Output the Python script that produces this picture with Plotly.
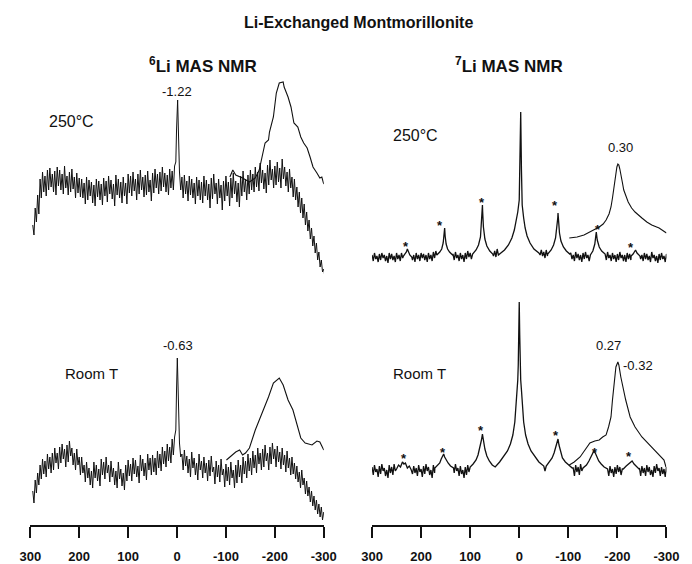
import plotly.graph_objects as go

# ---------------- data (intensities in arbitrary units) ----------------
# 6Li spectra: noise band given by upper / lower envelope on a 5 ppm grid from 295 ppm
LI6_GRID_START = 295
TL_UPPER = [  # 6Li, 250 C
    55, 72, 85, 101, 108, 104, 110, 112, 106, 109,
    113, 110, 106, 114, 104, 108, 111, 103, 107, 102,
    101, 97, 103, 100, 98, 95, 101, 99, 96, 102,
    99, 104, 100, 96, 105, 101, 98, 103, 97, 106,
    104, 108, 101, 106, 110, 103, 105, 109, 100, 107,
    111, 106, 108, 113, 107, 105, 111, 109, 114, 175,
    108, 103, 105, 99, 104, 101, 97, 103, 100, 98,
    104, 100, 96, 102, 106, 97, 101, 95, 99, 104,
    98, 102, 107, 99, 97, 104, 109, 101, 105, 110,
    106, 113, 108, 117, 110, 107, 115, 120, 111, 114,
    118, 112, 121, 113, 108, 111, 103, 101, 93, 88,
    82, 76, 68, 60, 52, 44, 37, 28, 20, 11,
]
TL_LOWER = [
    45, 58, 66, 82, 88, 84, 90, 93, 88, 85,
    94, 90, 86, 92, 85, 88, 91, 82, 87, 83,
    82, 76, 80, 84, 77, 74, 83, 80, 75, 84,
    78, 86, 81, 74, 85, 82, 77, 84, 76, 87,
    84, 89, 80, 86, 90, 83, 85, 88, 79, 87,
    92, 86, 89, 93, 88, 85, 92, 90, 96, 160,
    90, 82, 86, 79, 85, 82, 76, 84, 80, 77,
    84, 80, 72, 81, 86, 76, 82, 70, 79, 84,
    74, 82, 86, 78, 73, 84, 88, 80, 86, 90,
    88, 93, 89, 97, 91, 87, 95, 100, 92, 95,
    98, 92, 101, 94, 88, 92, 83, 80, 73, 67,
    62, 55, 49, 41, 34, 27, 20, 13, 8, 2,
]
TL_PEAK_PPM = [2.5, 1.0, -1.2, -2.5, -3.5]
TL_PEAK_VAL = [118, 150, 180, 155, 125]
TL_EXP_PPM = [-108, -114, -120, -134, -148, -154, -160, -168, -174, -180, -187, -189,
              -197, -203, -209, -217, -219, -227, -233, -239, -247, -253, -259, -266,
              -272, -278, -286, -292, -296, -300]
TL_EXP_VAL = [103, 110, 105, 102, 98, 100, 102, 110, 123, 137, 140, 148,
              163, 187, 197, 198, 193, 183, 173, 157, 153, 143, 137, 132,
              123, 113, 107, 102, 103, 96]

BL_UPPER = [  # 6Li, room T
    34, 45, 52, 60, 66, 64, 71, 68, 72, 77,
    72, 78, 81, 76, 80, 84, 77, 72, 76, 68,
    68, 60, 63, 57, 54, 63, 60, 56, 66, 63,
    68, 60, 64, 57, 54, 63, 56, 52, 60, 65,
    61, 67, 65, 59, 70, 66, 62, 71, 67, 70,
    67, 74, 71, 78, 74, 81, 78, 86, 88, 160,
    82, 71, 75, 69, 66, 73, 67, 62, 71, 64,
    68, 62, 65, 69, 58, 64, 60, 66, 56, 61,
    58, 63, 55, 60, 65, 60, 68, 64, 71, 67,
    74, 70, 77, 72, 76, 80, 72, 78, 82, 76,
    79, 73, 77, 70, 74, 67, 68, 62, 59, 53,
    55, 47, 44, 38, 34, 29, 25, 21, 18, 13,
]
BL_LOWER = [
    22, 32, 40, 46, 51, 48, 56, 52, 55, 62,
    56, 62, 66, 58, 63, 69, 60, 55, 60, 50,
    52, 43, 47, 40, 37, 47, 44, 39, 50, 46,
    52, 43, 48, 40, 37, 46, 39, 35, 44, 49,
    44, 51, 48, 42, 54, 49, 45, 55, 50, 53,
    50, 57, 54, 61, 58, 64, 62, 70, 74, 150,
    68, 55, 59, 52, 48, 57, 50, 45, 55, 47,
    52, 44, 49, 53, 41, 48, 43, 50, 38, 44,
    40, 47, 37, 42, 48, 42, 51, 47, 54, 50,
    57, 52, 61, 55, 58, 64, 55, 61, 66, 58,
    63, 56, 60, 53, 57, 50, 51, 46, 43, 37,
    40, 31, 29, 23, 19, 15, 11, 8, 5, 2,
]
BL_PEAK_PPM = [2.5, 1.0, -0.6, -2.0, -3.5]
BL_PEAK_VAL = [95, 135, 167, 140, 100]
BL_EXP_PPM = [-101, -114, -120, -128, -134, -140, -148, -160, -174, -187, -197, -203,
              -209, -217, -227, -237, -247, -253, -262, -276, -286, -292, -300]
BL_EXP_VAL = [65, 70, 73, 75, 70, 72, 77, 95, 112, 128, 142, 145,
              147, 140, 125, 115, 98, 87, 82, 80, 84, 83, 75]

# 7Li spectra: baseline noise envelope on a 5 ppm grid from 300 ppm, plus peaks
LI7_GRID_START = 300
TR_UPPER = [  # 7Li, 250 C
    25, 27, 24, 26, 27, 25, 24, 27, 26, 24,
    27, 25, 27, 26, 27, 28, 26, 25, 27, 25,
    27, 26, 25, 27, 25, 28, 29, 30, 32, 33,
    33, 31, 29, 26, 28, 25, 27, 25, 27, 29,
    27, 30, 32, 35, 43, 62, 48, 37, 32, 30,
    29, 31, 30, 33, 37, 41, 47, 55, 65, 78,
    82, 78, 63, 53, 45, 40, 36, 33, 31, 30,
    28, 30, 32, 35, 43, 62, 48, 38, 34, 32,
    29, 27, 25, 28, 26, 25, 27, 28, 25, 28,
    32, 43, 38, 32, 29, 26, 28, 25, 27, 25,
    26, 28, 25, 25, 27, 26, 31, 30, 28, 27,
    25, 27, 26, 24, 28, 25, 24, 26, 27, 24,
    26,
]
TR_LOWER = [
    19, 21, 18, 20, 22, 19, 17, 21, 20, 18,
    21, 19, 22, 20, 21, 22, 20, 18, 21, 19,
    22, 20, 18, 21, 19, 22, 23, 24, 26, 27,
    27, 25, 23, 20, 22, 19, 21, 18, 21, 23,
    21, 24, 26, 29, 37, 57, 42, 31, 26, 24,
    23, 25, 24, 27, 31, 35, 41, 49, 59, 72,
    77, 72, 57, 47, 39, 34, 30, 27, 25, 24,
    22, 24, 26, 29, 37, 57, 42, 32, 28, 26,
    23, 21, 19, 22, 20, 18, 21, 22, 19, 22,
    26, 37, 32, 26, 23, 20, 22, 19, 21, 18,
    20, 22, 19, 18, 21, 20, 25, 24, 22, 21,
    19, 21, 20, 18, 22, 19, 17, 20, 21, 18,
    20,
]
TR_PEAKS_PPM = [
    [236, 232, 230, 228, 226, 223, 219],
    [168, 162, 158, 155, 153, 152, 151, 149, 146, 142, 136],
    [95, 88, 83, 79, 77, 75.5, 75, 74.5, 73, 70, 66, 60, 54],
    [40, 30, 22, 15, 10, 6, 3, 0, -1.5, -3, -4.5, -6, -9, -12, -16, -22, -30, -40],
    [-58, -65, -70, -74, -77, -78.5, -79, -80, -82, -85, -90, -96, -103],
    [-145, -150, -154, -156, -157, -159, -163, -168, -175],
    [-228, -232, -235, -237, -240, -246],
]
TR_PEAKS_VAL = [
    [24, 26, 28, 31, 28, 25, 23],
    [25, 28, 31, 37, 44, 52, 44, 36, 31, 28, 25],
    [26, 30, 35, 43, 55, 68, 75, 68, 53, 41, 34, 29, 26],
    [26, 30, 35, 42, 50, 60, 68, 80, 110, 168, 110, 75, 62, 52, 44, 37, 31, 27],
    [26, 30, 35, 42, 52, 62, 67, 58, 47, 39, 33, 29, 26],
    [25, 29, 36, 44, 48, 40, 33, 29, 26],
    [24, 26, 29, 30, 27, 24],
]
TR_EXP_PPM = [-102, -118, -132, -144, -155, -163, -171, -177, -183, -187,
              -190, -193, -196, -199, -201, -203, -205, -207, -210, -213,
              -218, -222, -229, -236, -250, -260, -270, -285, -300]
TR_EXP_VAL = [42, 43, 45, 48, 51, 53, 56, 60, 66, 73,
              82, 93, 104, 113, 116, 115, 111, 107, 98, 90,
              83, 78, 72, 68, 62, 58, 55, 52, 47]
TR_STAR_PPM = [230, 161, 75, -73, -161, -228]
TR_STAR_VAL = [38, 59, 82, 79, 55, 37]

BR_UPPER = [  # 7Li, room T
    58, 60, 56, 59, 61, 57, 55, 60, 58, 61,
    59, 63, 61, 65, 63, 61, 58, 59, 57, 60,
    56, 59, 61, 58, 55, 60, 57, 60, 61, 63,
    73, 67, 63, 59, 61, 57, 59, 55, 58, 60,
    61, 64, 69, 75, 88, 91, 73, 65, 61, 60,
    62, 64, 66, 69, 73, 77, 83, 91, 103, 123,
    226, 123, 103, 91, 83, 77, 73, 69, 66, 64,
    61, 63, 66, 70, 75, 83, 75, 67, 64, 61,
    59, 58, 57, 60, 58, 61, 57, 59, 63, 66,
    73, 69, 64, 61, 58, 60, 57, 59, 56, 58,
    60, 58, 56, 61, 59, 64, 66, 63, 60, 57,
    59, 57, 60, 58, 55, 59, 61, 57, 58, 56,
    58,
]
BR_LOWER = [
    50, 53, 48, 51, 54, 49, 47, 52, 50, 54,
    52, 56, 54, 58, 56, 54, 51, 52, 49, 53,
    48, 51, 54, 50, 47, 52, 49, 53, 54, 56,
    66, 60, 56, 52, 54, 49, 51, 47, 50, 53,
    54, 57, 62, 68, 81, 84, 66, 58, 54, 53,
    55, 57, 59, 62, 66, 70, 76, 84, 96, 116,
    219, 116, 96, 84, 76, 70, 66, 62, 59, 57,
    54, 56, 59, 63, 68, 76, 68, 60, 57, 54,
    52, 51, 49, 53, 50, 54, 49, 52, 56, 59,
    66, 62, 57, 54, 51, 53, 49, 52, 48, 51,
    53, 50, 49, 54, 52, 57, 59, 56, 53, 49,
    52, 49, 53, 50, 48, 52, 54, 49, 51, 48,
    51,
]
BR_PEAKS_PPM = [
    [250, 246, 242, 238, 235, 232, 228, 224, 220],
    [172, 166, 162, 159, 156, 154, 152, 149, 145, 140, 134],
    [100, 94, 88, 84, 80, 77, 75, 73, 70, 66, 61, 55, 49],
    [50, 40, 32, 24, 18, 13, 9, 6, 4.5, 3, 2, 1, 0, -1, -2, -3, -4.5, -6, -9, -13,
     -18, -24, -32, -40, -50],
    [-55, -62, -67, -71, -75, -77, -79, -81, -84, -88, -94, -100, -108],
    [-130, -137, -142, -146, -149, -152, -155, -158, -162, -167, -173, -180],
    [-212, -218, -222, -226, -230, -234, -238, -244],
]
BR_PEAKS_VAL = [
    [56, 60, 58, 63, 61, 62, 57, 59, 55],
    [57, 60, 62, 66, 69, 71, 68, 65, 62, 59, 57],
    [58, 61, 65, 70, 77, 85, 91, 84, 76, 69, 64, 60, 58],
    [59, 63, 68, 74, 81, 90, 103, 120, 135, 145, 160, 190, 223, 190, 160, 145, 135,
     120, 103, 90, 81, 74, 68, 63, 59],
    [59, 63, 67, 72, 78, 83, 86, 80, 73, 67, 63, 60, 57],
    [57, 60, 64, 68, 71, 74, 72, 68, 64, 61, 58, 56],
    [56, 59, 61, 63, 64, 61, 59, 56],
]
BR_EXP_PPM = [-102, -112, -124, -135, -144, -154, -163, -170, -177, -182,
              -187, -190, -193, -197, -201, -203, -207, -211, -217, -226,
              -236, -250, -260, -270, -285, -295, -299]
BR_EXP_VAL = [60, 63, 68, 76, 82, 84, 85, 88, 90, 98,
              108, 125, 142, 158, 163, 160, 148, 138, 125, 108,
              98, 88, 83, 78, 70, 65, 58]
BR_STAR_PPM = [234, 156, 77, -75, -154, -224]
BR_STAR_VAL = [71, 77, 99, 94, 77, 73]

TICK_VALS = [300, 200, 100, 0, -100, -200, -300]
TICK_TEXT = ["300", "200", "100", "0", "-100", "-200", "-300"]


def build(start, upper, lower, peaks_ppm, peaks_val, step=5):
    """Noise band drawn as a trace alternating between the upper and lower
    envelope values, with the resolved peaks merged in."""
    pts = []
    for i, (u, lo_v) in enumerate(zip(upper, lower)):
        x = start - step * i
        pts.append((x, u))
        pts.append((x - step / 2, lo_v))
    windows = [(min(p), max(p)) for p in peaks_ppm]
    pts = [(x, v) for x, v in pts if not any(a <= x <= b for a, b in windows)]
    for p, v in zip(peaks_ppm, peaks_val):
        pts.extend(zip(p, v))
    pts.sort(key=lambda t: -t[0])
    return [p[0] for p in pts], [p[1] for p in pts]


fig = go.Figure()
BLACK = "#111111"

tl_x, tl_y = build(LI6_GRID_START, TL_UPPER, TL_LOWER, [TL_PEAK_PPM], [TL_PEAK_VAL])
bl_x, bl_y = build(LI6_GRID_START, BL_UPPER, BL_LOWER, [BL_PEAK_PPM], [BL_PEAK_VAL])
tr_x, tr_y = build(LI7_GRID_START, TR_UPPER, TR_LOWER, TR_PEAKS_PPM, TR_PEAKS_VAL)
br_x, br_y = build(LI7_GRID_START, BR_UPPER, BR_LOWER, BR_PEAKS_PPM, BR_PEAKS_VAL)

def line(x, y, xa, ya, w):
    fig.add_trace(go.Scatter(x=x, y=y, xaxis=xa, yaxis=ya, mode="lines",
                             line=dict(color=BLACK, width=w), showlegend=False,
                             hoverinfo="skip"))

line(bl_x, bl_y, "x", "y", 1.0)
line(BL_EXP_PPM, BL_EXP_VAL, "x", "y", 1.1)
line(br_x, br_y, "x2", "y2", 1.3)
line(BR_EXP_PPM, BR_EXP_VAL, "x2", "y2", 1.1)
line(tl_x, tl_y, "x3", "y3", 1.0)
line(TL_EXP_PPM, TL_EXP_VAL, "x3", "y3", 1.1)
line(tr_x, tr_y, "x4", "y4", 1.3)
line(TR_EXP_PPM, TR_EXP_VAL, "x4", "y4", 1.1)

W, H = 692, 564
def px(x):
    return x / W
def py(y):
    return 1 - y / H

FONT = "Arial, Liberation Sans, sans-serif"
xcommon = dict(range=[300, -300], showgrid=False, zeroline=False,
               tickvals=TICK_VALS, ticktext=TICK_TEXT,
               showline=True, linecolor=BLACK, linewidth=1.5,
               ticks="outside", ticklen=11, tickwidth=1.5, tickcolor=BLACK,
               tickfont=dict(family=FONT, size=13, color=BLACK, weight="bold"),
               ticklabelstandoff=8, fixedrange=True)
hidden = dict(visible=False, range=[300, -300], fixedrange=True)
ycommon = dict(visible=False, fixedrange=True)

fig.update_layout(
    width=W, height=H, margin=dict(l=0, r=0, t=0, b=0),
    paper_bgcolor="white", plot_bgcolor="white",
    xaxis=dict(domain=[px(20), px(324)], anchor="y", **xcommon),
    xaxis2=dict(domain=[px(374), px(679)], anchor="y2", **xcommon),
    xaxis3=dict(domain=[px(20), px(324)], anchor="y3", **hidden),
    xaxis4=dict(domain=[px(374), px(679)], anchor="y4", **hidden),
    yaxis=dict(domain=[py(525), py(290)], range=[0, 235], anchor="x", **ycommon),
    yaxis2=dict(domain=[py(525), py(290)], range=[0, 235], anchor="x2", **ycommon),
    yaxis3=dict(domain=[py(280), py(70)], range=[0, 210], anchor="x3", **ycommon),
    yaxis4=dict(domain=[py(280), py(70)], range=[0, 210], anchor="x4", **ycommon),
)

ann = []
def paper_text(text, x, y, size, bold=False):
    ann.append(dict(text=text, x=px(x), y=py(y), xref="paper", yref="paper",
                    showarrow=False, xanchor="center", yanchor="middle",
                    font=dict(family=FONT, size=size, color=BLACK,
                              weight="bold" if bold else "normal")))

def data_text(text, x, y, xa, ya, size, yshift=0, bold=False):
    ann.append(dict(text=text, x=x, y=y, xref=xa, yref=ya, showarrow=False,
                    xanchor="center", yanchor="middle", yshift=yshift,
                    font=dict(family=FONT, size=size, color=BLACK,
                              weight="bold" if bold else "normal")))

paper_text("Li-Exchanged Montmorillonite", 360, 22, 16, bold=True)
paper_text("<sup>6</sup>Li MAS NMR", 199, 65, 17, bold=True)
paper_text("<sup>7</sup>Li MAS NMR", 516, 65, 17, bold=True)
paper_text("250°C", 63, 121, 16)
paper_text("Room T", 83, 373, 15)
paper_text("250°C", 419, 135, 16)
paper_text("Room T", 423, 373, 15)

data_text("-1.22", 0, 189, "x3", "y3", 13)
data_text("-0.63", -1, 180, "x", "y", 13)
data_text("0.30", -207, 133, "x4", "y4", 13)
data_text("0.27", -181, 180, "x2", "y2", 13)
data_text("-0.32", -242, 160, "x2", "y2", 13)

for p, v in zip(TR_STAR_PPM, TR_STAR_VAL):
    data_text("*", p, v, "x4", "y4", 13, yshift=-4, bold=True)
for p, v in zip(BR_STAR_PPM, BR_STAR_VAL):
    data_text("*", p, v, "x2", "y2", 13, yshift=-4, bold=True)

fig.update_layout(annotations=ann)
fig.write_html("out.html")
